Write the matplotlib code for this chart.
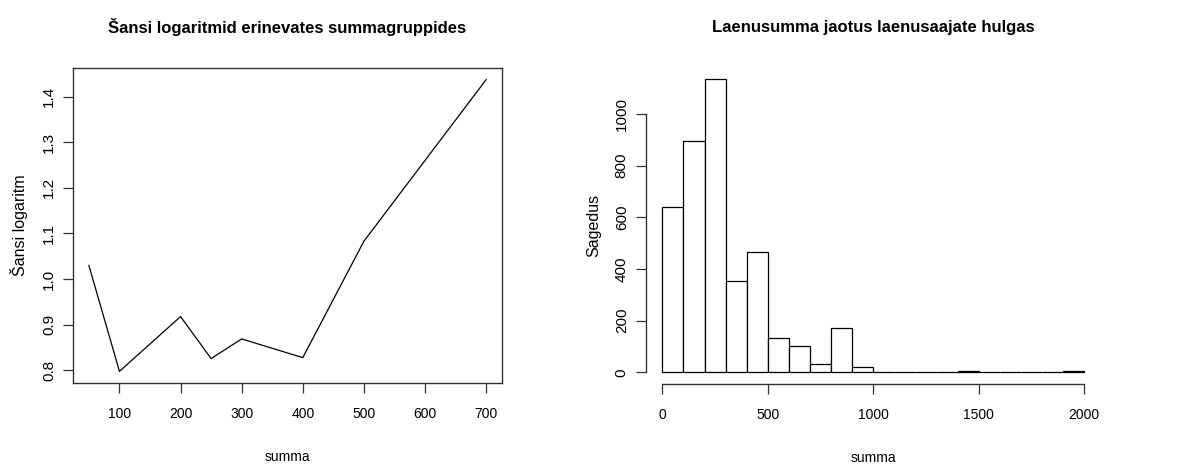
import numpy as np
import matplotlib
matplotlib.use("Agg")
from matplotlib import pyplot as plt

plt.rcParams['font.family'] = ['Liberation Sans', 'DejaVu Sans']

# Left: log odds per loan sum group
summa_groups = [50, 100, 200, 250, 300, 400, 500, 700]
log_odds = [1.030, 0.798, 0.918, 0.826, 0.869, 0.828, 1.083, 1.437]

# Right: histogram of loan sums (bins of 100, 0..2000)
bin_edges = list(range(0, 2001, 100))
counts = [640, 896, 1137, 355, 467, 134, 101, 32, 170, 19,
          0, 0, 0, 0, 4, 0, 0, 0, 0, 4]

fig = plt.figure(figsize=(11.97, 4.66), dpi=100)

# ---- left plot
ax1 = fig.add_axes([73/1197, 1-383/466, (502-73)/1197, (383-68)/466])
ax1.plot(summa_groups, log_odds, color='black', lw=0.9)
xr = max(summa_groups) - min(summa_groups)
ax1.set_xlim(min(summa_groups) - 0.04*xr, max(summa_groups) + 0.04*xr)
yr = max(log_odds) - min(log_odds)
ax1.set_ylim(min(log_odds) - 0.04*yr, max(log_odds) + 0.04*yr)
ax1.set_xticks([100, 200, 300, 400, 500, 600, 700])
ax1.set_yticks([0.8, 0.9, 1.0, 1.1, 1.2, 1.3, 1.4])
ax1.set_yticklabels(["0.8", "0.9", "1.0", "1.1", "1.2", "1.3", "1.4"],
                    rotation=90, va='center')
for s in ax1.spines.values():
    s.set_color('#333333')
    s.set_linewidth(1.0)
ax1.tick_params(length=7, width=0.9, color='#333333')
ax1.tick_params(axis='x', labelsize=10, pad=10)
ax1.tick_params(axis='y', labelsize=11, pad=5)
ax1.set_xlabel("summa", fontsize=10, labelpad=21)
ax1.set_ylabel("Šansi logaritm", fontsize=11.5, labelpad=10)
ax1.set_title("Šansi logaritmid erinevates summagruppides", fontsize=12,
              fontweight='bold', pad=25)

# ---- right plot
ax2 = fig.add_axes([645.5/1197, 1-384/466, (1101-645.5)/1197, (384-67)/466])
lefts = bin_edges[:-1]
widths = np.diff(bin_edges)
ax2.bar(lefts, counts, width=widths, align='edge', color='white',
        edgecolor='black', linewidth=0.9)
ax2.set_xlim(-0.04*2000, 2000*1.04)
ax2.set_ylim(-0.04*max(counts), max(counts)*1.04)
ax2.spines['top'].set_visible(False)
ax2.spines['right'].set_visible(False)
ax2.spines['left'].set_bounds(0, 1000)
ax2.spines['bottom'].set_bounds(0, 2000)
for s in ax2.spines.values():
    s.set_color('#333333')
    s.set_linewidth(1.0)
ax2.set_xticks([0, 500, 1000, 1500, 2000])
ax2.set_yticks([0, 200, 400, 600, 800, 1000])
ax2.set_yticklabels(["0", "200", "400", "600", "800", "1000"],
                    rotation=90, va='center')
ax2.tick_params(length=7, width=0.9, color='#333333')
ax2.tick_params(axis='x', labelsize=10, pad=10)
ax2.tick_params(axis='y', labelsize=11, pad=5)
ax2.set_xlabel("summa", fontsize=10, labelpad=21)
ax2.set_ylabel("Sagedus", fontsize=11.5, labelpad=10)
ax2.set_title("Laenusumma jaotus laenusaajate hulgas", fontsize=12,
              fontweight='bold', pad=25)

fig.savefig("out.png", dpi=100)
